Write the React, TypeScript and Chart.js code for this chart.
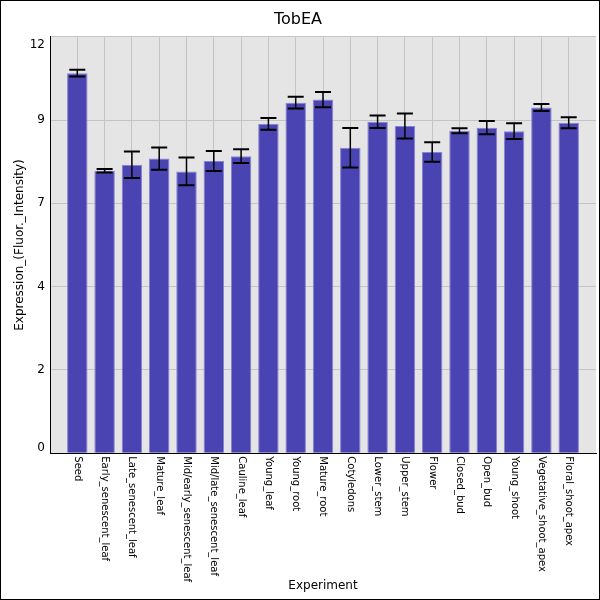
import Chart from 'chart.js/auto';
import { useRef, useEffect } from 'react';
import React from 'react';

const experiments = [
  'Seed', 'Early_senescent_leaf', 'Late_senescent_leaf', 'Mature_leaf',
  'Mid/early_senescent_leaf', 'Mid/late_senescent_leaf', 'Cauline_leaf',
  'Young_leaf', 'Young_root', 'Mature_root', 'Cotyledons', 'Lower_stem',
  'Upper_stem', 'Flower', 'Closed_bud', 'Open_bud', 'Young_shoot',
  'Vegetative_shoot_apex', 'Floral_shoot_apex',
];
const expression = [
  10.95, 8.14, 8.31, 8.49, 8.12, 8.42, 8.56,
  9.49, 10.1, 10.19, 8.8, 9.55, 9.43, 8.68,
  9.29, 9.38, 9.28, 9.96, 9.52,
];
const stdErr = [
  0.1, 0.05, 0.38, 0.32, 0.4, 0.29, 0.2,
  0.17, 0.17, 0.22, 0.57, 0.18, 0.36, 0.28,
  0.07, 0.19, 0.23, 0.1, 0.16,
];
const yTicks = [0, 2.4, 4.8, 7.2, 9.6, 12];

const font = '"DejaVu Sans", sans-serif';

export default function App() {
  const chartRef = useRef<HTMLCanvasElement | null>(null);
  const chartInstance = useRef<Chart<'bar'> | null>(null);

  useEffect(() => {
    document.body.style.margin = '0';
    if (!chartRef.current) return;
    const ctx = chartRef.current.getContext('2d');
    if (!ctx) return;

    const chrome = {
      id: 'chrome',
      beforeDraw(chart: any) {
        const { ctx, chartArea } = chart;
        ctx.save();
        ctx.fillStyle = '#ffffff';
        ctx.fillRect(0, 0, chart.width, chart.height);
        ctx.fillStyle = '#e5e5e5';
        ctx.fillRect(chartArea.left, chartArea.top, chartArea.right - chartArea.left, chartArea.bottom - chartArea.top);
        ctx.restore();
      },
      afterDatasetsDraw(chart: any) {
        const { ctx, scales } = chart;
        const x = scales.x;
        const y = scales.y;
        ctx.save();
        ctx.strokeStyle = '#000000';
        expression.forEach((v, i) => {
          const cx = x.getPixelForValue(i);
          const hi = y.getPixelForValue(v + stdErr[i]);
          const lo = y.getPixelForValue(v - stdErr[i]);
          ctx.lineWidth = 1.5;
          ctx.beginPath();
          ctx.moveTo(cx, hi);
          ctx.lineTo(cx, lo);
          ctx.stroke();
          ctx.lineWidth = 2;
          ctx.beginPath();
          ctx.moveTo(cx - 8, hi);
          ctx.lineTo(cx + 8, hi);
          ctx.moveTo(cx - 8, lo);
          ctx.lineTo(cx + 8, lo);
          ctx.stroke();
        });
        ctx.restore();
      },
      afterDraw(chart: any) {
        const { ctx, scales, chartArea } = chart;
        const x = scales.x;
        const y = scales.y;
        ctx.save();
        ctx.fillStyle = '#000000';
        // x category labels, read top to bottom
        ctx.font = '10px ' + font;
        ctx.textAlign = 'left';
        ctx.textBaseline = 'middle';
        experiments.forEach((name, i) => {
          ctx.save();
          ctx.translate(x.getPixelForValue(i), x.top + 3);
          ctx.rotate(Math.PI / 2);
          ctx.fillText(name, 0, 0);
          ctx.restore();
        });
        // y tick labels, kept inside the plot height
        ctx.font = '12px ' + font;
        ctx.textAlign = 'right';
        yTicks.forEach((v) => {
          let py = y.getPixelForValue(v);
          py = Math.min(Math.max(py, chartArea.top + 8), chartArea.bottom - 5);
          ctx.fillText(String(Math.floor(v + 1e-9)), chartArea.left - 5, py);
        });
        ctx.strokeStyle = '#000000';
        ctx.lineWidth = 1;
        ctx.strokeRect(0.5, 0.5, chart.width - 1, chart.height - 1);
        ctx.restore();
      },
    };

    chartInstance.current = new Chart(ctx, {
      type: 'bar',
      data: {
        datasets: [{
          label: 'Expression',
          data: expression.map((v, i) => ({ x: i, y: v })),
          backgroundColor: 'rgb(74, 68, 178)',
          borderColor: 'rgb(135, 130, 210)',
          borderWidth: 1,
          barPercentage: 0.75,
          categoryPercentage: 1,
        }],
      },
      options: {
        animation: false,
        responsive: false,
        devicePixelRatio: 1,
        layout: { padding: { left: 0, right: 4, top: 0, bottom: 0 } },
        plugins: {
          legend: { display: false },
          tooltip: { enabled: false },
          title: {
            display: true,
            text: 'TobEA',
            color: '#000000',
            font: { family: font, size: 16, weight: 'normal', lineHeight: 1.2 },
            padding: { top: 10, bottom: 7.5 },
          },
        },
        scales: {
          x: {
            type: 'linear',
            min: -1,
            max: 19,
            offset: false,
            afterFit(scale: any) { scale.height = 146.7; },
            afterBuildTicks(scale: any) {
              scale.ticks = experiments.map((_, i) => ({ value: i }));
            },
            ticks: { display: false },
            grid: { color: '#c4c4c4', drawTicks: false, offset: false },
            border: { color: '#000000', width: 1 },
            title: {
              display: true,
              text: 'Experiment',
              color: '#000000',
              font: { family: font, size: 12 },
              padding: { top: 0, bottom: 7 },
            },
          },
          y: {
            min: 0,
            max: 12,
            afterFit(scale: any) { scale.width = 50; },
            afterBuildTicks(scale: any) {
              scale.ticks = yTicks.map((v) => ({ value: v }));
            },
            ticks: { display: false },
            grid: { color: '#c4c4c4', drawTicks: false },
            border: { color: '#000000', width: 1 },
            title: {
              display: true,
              text: 'Expression_(Fluor._Intensity)',
              color: '#000000',
              font: { family: font, size: 12 },
              padding: { top: 13, bottom: 0 },
            },
          },
        },
      },
      plugins: [chrome],
    });

    return () => {
      if (chartInstance.current) {
        chartInstance.current.destroy();
        chartInstance.current = null;
      }
    };
  }, []);

  return (
    <div style={{ width: 600, height: 600 }}>
      <canvas ref={chartRef} width={600} height={600} />
    </div>
  );
}
